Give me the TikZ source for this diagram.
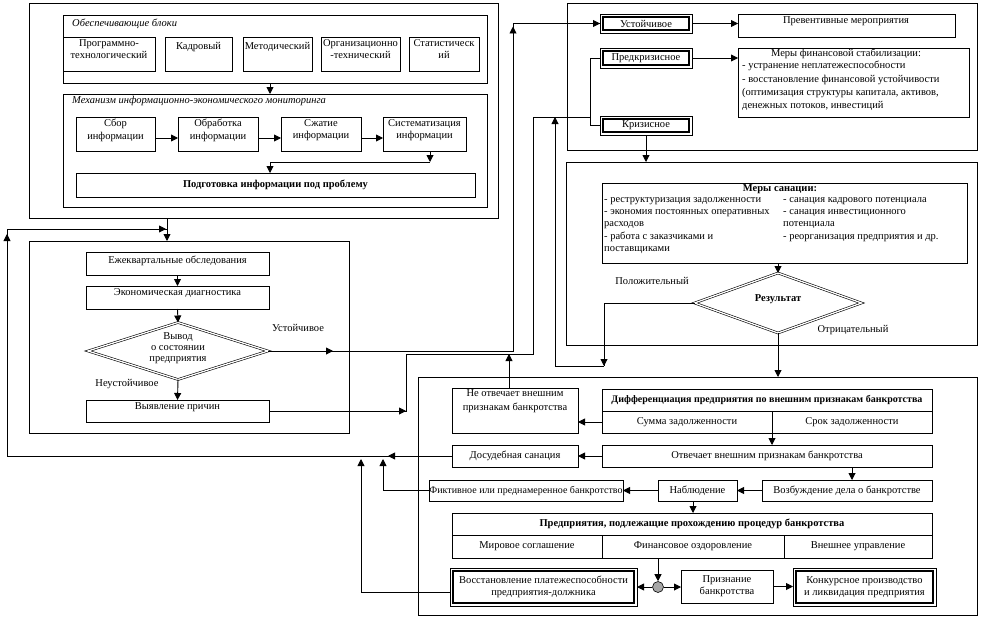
\documentclass[tikz,border=0pt]{standalone}
\usepackage{fontspec}
\setmainfont{Liberation Serif}
\usetikzlibrary{arrows.meta,shapes.geometric,calc}
\newcommand\myfs{\fontsize{10.5}{12.3}\selectfont}
\newcommand\mkbox[6][]{\node[bx,minimum width={#5-#3},minimum height={#6-#4},#1] (#2) at ({(#3+#5)/2},{(#4+#6)/2}) {};}
\newcommand\dblin[1]{\draw[line width=1.6pt] ([shift={(2.8,2.8)}]#1.north west) rectangle ([shift={(-2.8,-2.8)}]#1.south east);}
\tikzset{
  bx/.style={draw,line width=0.9pt,inner sep=0pt,outer sep=0pt},
  txt/.style={inner sep=0pt,font=\myfs,align=center},
  ltxt/.style={inner sep=0pt,font=\myfs,align=left},
  arr/.style={line width=0.9pt,-{Triangle[length=7pt,width=7pt]}},
  ln/.style={line width=0.9pt},
  dia/.style={diamond,draw,double,double distance=1.3pt,line width=0.6pt,inner sep=0pt,outer sep=0pt},
}
\begin{document}
\begin{tikzpicture}[x=1pt,y=-1pt]
\useasboundingbox (0,0) rectangle (981,618);
% ---------- top-left block
\mkbox{tl}{29}{3}{498}{218}
\mkbox{ob}{63}{15}{487}{83}
\node[txt,anchor=west,font=\myfs\itshape] (obl) at (72,24) {Обеспечивающие блоки};
\mkbox{b1}{63}{37}{155}{71}
\mkbox{b2}{165}{37}{232}{71}
\mkbox{b3}{243}{37}{312}{71}
\mkbox{b4}{321}{37}{400}{71}
\mkbox{b5}{409}{37}{479}{71}
\node[txt,anchor=north] (b1t) at ([yshift=-2pt]b1.north) {Программно-\\технологический};
\node[txt,anchor=north] (b2t) at ([yshift=-5pt]b2.north) {Кадровый};
\node[txt,anchor=north] (b3t) at ([yshift=-5pt]b3.north) {Методический};
\node[txt,anchor=north] (b4t) at ([yshift=-2pt]b4.north) {Организационно\\-технический};
\node[txt,anchor=north] (b5t) at ([yshift=-2pt]b5.north) {Статистическ\\ий};
\mkbox{mech}{63}{94}{487}{207}
\node[txt,anchor=west,font=\myfs\itshape] (mechl) at (72,101) {Механизм информационно-экономического мониторинга};
\mkbox{c1}{76}{117}{155}{151}
\mkbox{c2}{178}{117}{258}{151}
\mkbox{c3}{281}{117}{361}{151}
\mkbox{c4}{383}{117}{466}{151}
\node[txt,anchor=north] (c1t) at ([yshift=-2pt]c1.north) {Сбор\\информации};
\node[txt,anchor=north] (c2t) at ([yshift=-2pt]c2.north) {Обработка\\информации};
\node[txt,anchor=north] (c3t) at ([yshift=-2pt]c3.north) {Сжатие\\информации};
\node[txt,anchor=north] (c4t) at ([yshift=-2pt]c4.north) {Систематизация\\информации};
\mkbox{prep}{76}{173}{475}{197}
\node[txt,font=\myfs\bfseries] (prept) at (prep) {Подготовка информации под проблему};
\draw[arr] ([xshift=-5pt]ob.south) -- ([xshift=-5pt]mech.north);
\draw[arr] ([yshift=-4pt]c1.east) -- ([yshift=-4pt]c1.east -| c2.west);
\draw[arr] ([yshift=-4pt]c2.east) -- ([yshift=-4pt]c2.east -| c3.west);
\draw[arr] ([yshift=-4pt]c3.east) -- ([yshift=-4pt]c3.east -| c4.west);
\coordinate (j1) at (430,162);
\draw[arr] (j1 |- c4.south) -- (j1);
\draw[arr] (j1) -| ([xshift=-5.5pt]prep.north);
% ---------- left middle block
\mkbox{lb}{29}{241}{349}{433}
\mkbox{e1}{86}{252}{269}{275}
\mkbox{e2}{86}{286}{269}{309}
\mkbox{e3}{86}{400}{269}{422}
\node[txt] (e1t) at ([yshift=3pt]e1.center) {Ежеквартальные обследования};
\node[txt] (e2t) at ([yshift=4pt]e2.center) {Экономическая диагностика};
\node[txt] (e3t) at ([yshift=4pt]e3.center) {Выявление причин};
\node[dia,minimum width=180pt,minimum height=57pt] (d1) at (178,351) {};
\node[txt,font=\fontsize{10.5}{10.8}\selectfont] (d1t) at (178,348) {Вывод\\о состоянии\\предприятия};
\node[txt] (lab1) at (298,328) {Устойчивое};
\node[txt] (lab2) at (127,384) {Неустойчивое};
\draw[arr] (e1.south) -- (e2.north);
\draw[arr] (e2.south) -- (d1.north);
\draw[arr] (d1.south) -- (e3.north);
% ---------- top-right block
\mkbox{tr}{567}{3}{977}{150}
\mkbox{s1}{600}{14}{692}{33}
\mkbox{s2}{600}{48}{692}{68}
\mkbox{s3}{600}{116}{692}{135}
\dblin{s1}\dblin{s2}\dblin{s3}
\node[txt] (s1t) at (s1) {Устойчивое};
\node[txt] (s2t) at (s2) {Предкризисное};
\node[txt] (s3t) at (s3) {Кризисное};
\mkbox{p1}{738}{14}{955}{37}
\node[txt] (p1t) at (846,21) {Превентивные мероприятия};
\mkbox{p2}{738}{48}{969}{117}
\node[txt] (p2h) at (846,54) {Меры финансовой стабилизации:};
\node[ltxt,anchor=north west,font=\fontsize{10.5}{13.3}\selectfont] (p2t) at (742,61) {- устранение неплатежеспособности\\- восстановление финансовой устойчивости\\(оптимизация структуры капитала, активов,\\денежных потоков, инвестиций};
\draw[arr] (s1.east) -- (s1.east -| p1.west);
\draw[arr] (s2.east) -- (s2.east -| p2.west);
% ---------- second right block
\mkbox{r2}{566}{162}{977}{345}
\mkbox{ms}{602}{183}{967}{263}
\node[txt,font=\myfs\bfseries] (mst) at (780,189) {Меры санации:};
\node[ltxt,anchor=north west] (msl) at (604,197) {- реструктуризация задолженности\\- экономия постоянных оперативных\\расходов\\- работа с заказчиками и\\поставщиками};
\node[ltxt,anchor=north west] (msr) at (783,197) {- санация кадрового потенциала\\- санация инвестиционного\\потенциала\\- реорганизация предприятия и др.};
\node[dia,minimum width=167pt,minimum height=60pt] (d2) at (778,303) {};
\node[txt,font=\myfs\bfseries] (d2t) at (778,299) {Результат};
\node[txt] (lab3) at (652,281) {Положительный};
\node[txt] (lab4) at (853,330) {Отрицательный};
\draw[arr] (d2.north |- ms.south) -- (d2.north);
\draw[arr] (s3.south) -- (s3.south |- r2.north);
% ---------- bottom block
\mkbox{bb}{418}{377}{977}{615}
\mkbox{n1}{452}{388}{578}{433}
\node[txt,anchor=north,font=\fontsize{10.5}{14.5}\selectfont] (n1t) at ([yshift=-1pt]n1.north) {Не отвечает внешним\\признакам банкротства};
\mkbox{diff}{602}{389}{932}{433}
\draw[ln] (diff.west) -- (diff.east);
\draw[ln] ([xshift=5pt]diff.center) -- ([xshift=5pt]diff.south);
\node[txt,font=\fontsize{10}{12}\selectfont\bfseries] (difft) at (767,400) {Дифференциация предприятия по внешним признакам банкротства};
\node[txt] (diffa) at (687,422) {Сумма задолженности};
\node[txt] (diffb) at (852,422) {Срок задолженности};
\mkbox{ot}{602}{445}{932}{467}
\node[txt] (ott) at (ot) {Отвечает внешним признакам банкротства};
\mkbox{ds}{452}{445}{578}{467}
\node[txt] (dst) at (ds) {Досудебная санация};
\mkbox{fk}{429}{480}{623}{501}
\node[txt,font=\fontsize{10}{12}\selectfont] (fkt) at (fk) {Фиктивное или преднамеренное банкротство};
\mkbox{nb}{658}{480}{737}{501}
\node[txt] (nbt) at (nb) {Наблюдение};
\mkbox{vz}{762}{480}{932}{501}
\node[txt] (vzt) at (vz) {Возбуждение дела о банкротстве};
\mkbox{pr}{452}{513}{932}{558}
\draw[ln] (pr.west) -- (pr.east);
\draw[ln] ([xshift=-90pt]pr.center) -- ([xshift=-90pt]pr.south);
\draw[ln] ([xshift=92pt]pr.center) -- ([xshift=92pt]pr.south);
\node[txt,font=\myfs\bfseries] (prt) at (692,524) {Предприятия, подлежащие прохождению процедур банкротства};
\node[txt] (pra) at (527,546) {Мировое соглашение};
\node[txt] (prb) at (693,546) {Финансовое оздоровление};
\node[txt] (prc) at (858,546) {Внешнее управление};
\node[circle,draw,fill=gray!70,minimum size=11pt,inner sep=0pt,line width=0.6pt] (ci) at (658,587) {};
\mkbox{vs}{450}{568}{637}{606}
\mkbox{pz}{681}{570}{773}{603}
\mkbox{kp}{793}{568}{936}{606}
\dblin{vs}\dblin{kp}
\node[txt] (vst) at (vs) {Восстановление платежеспособности\\предприятия-должника};
\node[txt] (pzt) at (pz) {Признание\\банкротства};
\node[txt] (kpt) at (kp) {Конкурсное производство\\и ликвидация предприятия};
\draw[arr] ([yshift=-11pt]diff.west) -- ([yshift=-11pt]diff.west -| n1.east);
\draw[arr] ([xshift=5pt]diff.south) -- ([xshift=5pt]diff.south |- ot.north);
\draw[arr] (ot.west) -- (ot.west -| ds.east);
\draw[arr] ([xshift=5pt]vz.north |- ot.south) -- ([xshift=5pt]vz.north);
\draw[arr] (vz.west) -- (nb.east);
\draw[arr] (nb.west) -- (fk.east);
\draw[arr] ([xshift=-4.5pt]nb.south) -- ([xshift=-4.5pt]nb.south |- pr.north);
\draw[arr] (ci.north |- pr.south) -- (ci.north);
\draw[arr] (ci.west) -- (ci.west -| vs.east);
\draw[arr] (ci.east) -- (ci.east -| pz.west);
\draw[arr] (pz.east) -- (pz.east -| kp.west);
% ---------- long connectors
\coordinate (jt) at (167,229);
\coordinate (lbc) at (7,456);
\coordinate (ltc) at (7,229);
\draw[ln] (ds.west) -- (lbc) -- (ltc) -- (jt);
\draw[arr] (ds.west) -- (388,456);
\draw[arr] (lbc) -- (7,234);
\draw[arr] (ltc) -- ([xshift=-1pt]jt);
\draw[arr] (tl.south -| jt) -- (lb.north -| jt);
\draw[arr] (fk.west) -| (383,459);
\draw[arr] ([yshift=-5pt]vs.west) -| (361,459);
\coordinate (u1) at (513,351);
\draw[ln] (d1.east) -- (u1) -- (u1 |- s1.west) -- (s1.west);
\draw[arr] (d1.east) -- (333,351);
\draw[arr] (u1) -- ([yshift=-3pt]u1 |- s1.west);
\draw[arr] (u1 |- s1.west) -- (s1.west);
\coordinate (v1) at (406,411);
\coordinate (v2) at (406,354);
\coordinate (v3) at (533,354);
\coordinate (br) at (590,117);
\draw[ln] (e3.east) -- (v1) -- (v2) -- (v3) -- (v3 |- br) -- (br);
\draw[arr] (e3.east) -- (v1);
\draw[ln] (s2.west) -| (br) |- (s3.west);
\draw[arr] ([xshift=-6pt]n1.north) -- ([xshift=-6pt]n1.north |- v2);
\coordinate (w1) at (604,366);
\coordinate (w2) at (555,366);
\draw[ln] (d2.west) -| (w1);
\draw[arr] (d2.west -| w1) -- (w1);
\draw[arr] (w1) -- (w2) -- (w2 |- br);
\draw[arr] (d2.south) -- (d2.south |- bb.north);
\end{tikzpicture}
\end{document}
